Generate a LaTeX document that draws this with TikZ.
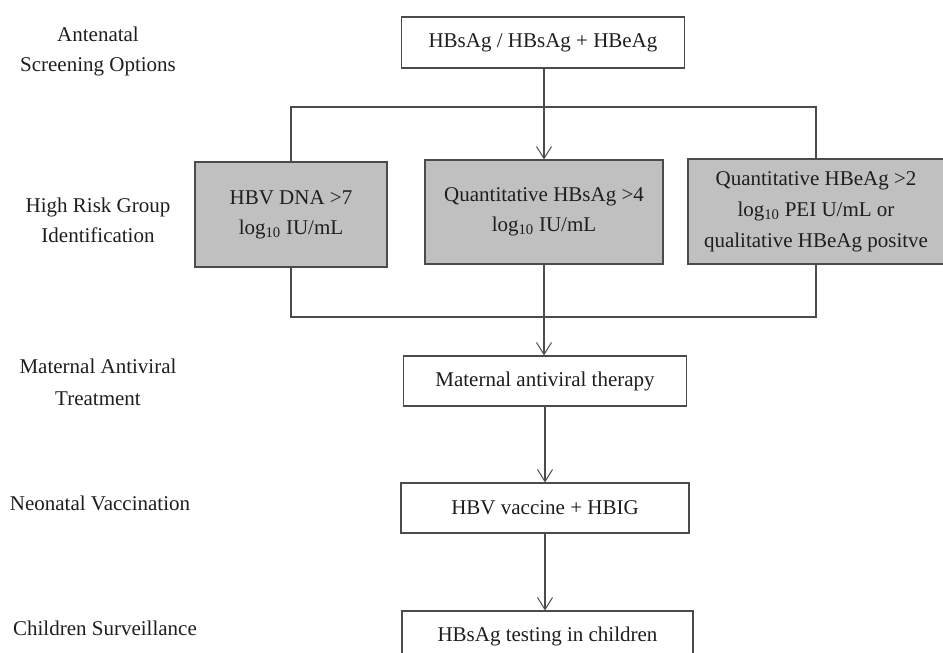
\documentclass[tikz,border=0pt]{standalone}
\usepackage{fontspec}
\setmainfont{Liberation Serif}
\usetikzlibrary{arrows.meta}
\definecolor{boxgray}{RGB}{192,192,192}
\definecolor{linegray}{RGB}{75,75,75}
\definecolor{txt}{RGB}{30,30,30}
\begin{document}
\begin{tikzpicture}[x=1pt,y=-1pt,
  every node/.style={font=\fontsize{21}{30}\selectfont, text=txt},
  wbox/.style={draw=linegray, line width=1.1pt, fill=white, inner sep=0pt, align=center},
  gbox/.style={wbox, fill=boxgray},
  conn/.style={draw=linegray, line width=1.1pt},
  arr/.style={conn, -{Straight Barb[length=12pt,width=15pt,line width=1pt]}},
  lab/.style={align=center, inner sep=0pt}
]
\useasboundingbox (0,0) rectangle (943,653);

% left-hand stage labels
\node[lab] (L1) at (98,51) {Antenatal\\Screening Options};
\node[lab] (L2) at (98,220) {High Risk Group\\Identification};
\node[lab, font=\fontsize{21}{32}\selectfont] (L3) at (98,382) {Maternal Antiviral\\Treatment};
\node[lab, anchor=base] (L4) at (100,510) {Neonatal Vaccination};
\node[lab, anchor=base] (L5) at (105,635) {Children Surveillance};

% boxes
\node[wbox, minimum width=283pt, minimum height=51pt] (T) at (543,42.5) {HBsAg / HBsAg + HBeAg};
\node[gbox, minimum width=192pt, minimum height=105pt] (G1) at (291,214.5) {HBV DNA >7\\log\textsubscript{10} IU/mL};
\node[gbox, minimum width=238pt, minimum height=104pt] (G2) at (544,212) {Quantitative HBsAg >4\\log\textsubscript{10} IU/mL};
\node[gbox, minimum width=256pt, minimum height=105pt, font=\fontsize{21}{31}\selectfont] (G3) at (816,211.5) {Quantitative HBeAg >2\\log\textsubscript{10} PEI U/mL or\\qualitative HBeAg positve};
\node[wbox, minimum width=283pt, minimum height=50pt] (M) at (545,381) {Maternal antiviral therapy};
\node[wbox, minimum width=288pt, minimum height=50pt] (V) at (545,508) {HBV vaccine + HBIG};
\node[wbox, minimum width=291pt, minimum height=50pt] (C) at (547.5,636) {HBsAg testing in children};

% connectors
\coordinate (top) at (0,107);
\coordinate (bot) at (0,317);
\draw[conn] (G1.north) -- (G1.north |- top) -- (G3.north |- top) -- (G3.north);
\draw[conn] (G1.south) -- (G1.south |- bot) -- (G3.south |- bot) -- (G3.south);
\draw[arr] (T.south -| G2.north) -- (G2.north);
\draw[arr] (G2.south) -- (G2.south |- M.north);
\draw[arr] (M.south) -- (M.south |- V.north);
\draw[arr] (V.south) -- (V.south |- C.north);
\end{tikzpicture}
\end{document}
